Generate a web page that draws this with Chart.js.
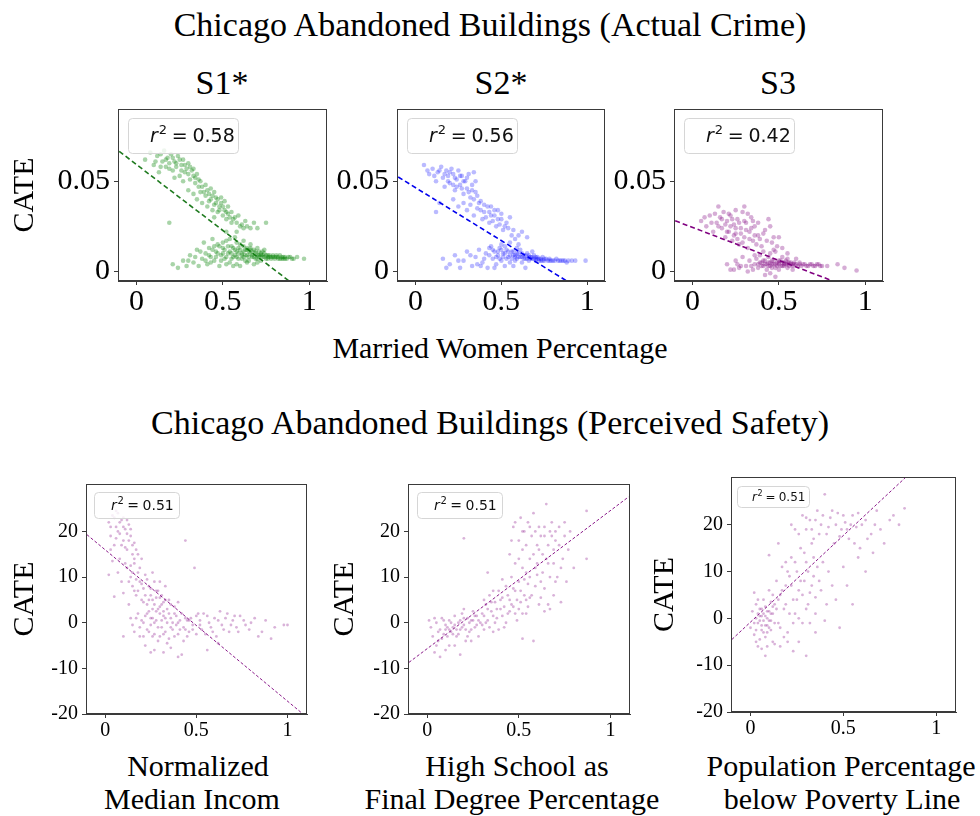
<!doctype html>
<html>
<head>
<meta charset="utf-8">
<title>Chicago Abandoned Buildings CATE</title>
<script src="https://cdn.jsdelivr.net/npm/chart.js@4.4.1/dist/chart.umd.min.js"></script>
<style>
  html, body { margin: 0; padding: 0; background: #fff; }
  #page { position: relative; width: 980px; height: 816px; overflow: hidden; font-family: "Liberation Serif", serif; color: #000; }
  canvas { position: absolute; }
  .txt { position: absolute; white-space: nowrap; transform: translateX(-50%); line-height: 1; }
</style>
</head>
<body>
<div id="page">
  <div class="txt" style="left:490px; top:8px; font-size:34px;">Chicago Abandoned Buildings (Actual Crime)</div>
  <div class="txt" style="left:222px; top:66px; font-size:34px;">S1*</div>
  <div class="txt" style="left:501px; top:66px; font-size:34px;">S2*</div>
  <div class="txt" style="left:778px; top:66px; font-size:34px;">S3</div>
  <div class="txt" style="left:500px; top:333px; font-size:30px;">Married Women Percentage</div>
  <div class="txt" style="left:490px; top:406px; font-size:34px;">Chicago Abandoned Buildings (Perceived Safety)</div>
  <div class="txt" style="left:198px; top:751px; font-size:30px;">Normalized</div>
  <div class="txt" style="left:192px; top:784px; font-size:30px;">Median Incom</div>
  <div class="txt" style="left:517px; top:751px; font-size:30px;">High School as</div>
  <div class="txt" style="left:512px; top:784px; font-size:30px;">Final Degree Percentage</div>
  <div class="txt" style="left:841px; top:751px; font-size:30px;">Population Percentage</div>
  <div class="txt" style="left:842px; top:784px; font-size:30px;">below Poverty Line</div>

  <canvas id="s1" width="335" height="240" style="left:0px; top:90px;"></canvas>
  <canvas id="s2" width="283" height="240" style="left:330px; top:90px;"></canvas>
  <canvas id="s3" width="283" height="240" style="left:608px; top:90px;"></canvas>
  <canvas id="b1" width="316" height="280" style="left:0px; top:470px;"></canvas>
  <canvas id="b2" width="320" height="280" style="left:320px; top:470px;"></canvas>
  <canvas id="b3" width="330" height="290" style="left:640px; top:460px;"></canvas>
</div>
<script>
// ---- data ----
var topXTicks = [0, 0.5, 1];
var topYTicks = [0, 0.05];
var botXTicks = [0, 0.5, 1];
var botYTicks = [-20, -10, 0, 10, 20];
var fitX = [-0.1, 1.1];

var r2Values = ['0.58', '0.56', '0.42', '0.51', '0.51', '0.51'];

// S1* (married women % vs CATE)
var s1Points = [
  [0.05,0.062],[0.08,0.066],[0.10,0.059],[0.12,0.064],[0.13,0.055],[0.15,0.061],[0.16,0.067],[0.17,0.058],
  [0.18,0.063],[0.19,0.060],[0.20,0.065],[0.21,0.056],[0.22,0.061],[0.23,0.058],[0.24,0.064],[0.25,0.053],
  [0.26,0.059],[0.27,0.062],[0.28,0.055],[0.29,0.057],[0.30,0.060],[0.31,0.051],[0.32,0.056],[0.33,0.053],
  [0.34,0.049],[0.35,0.054],[0.36,0.047],[0.37,0.050],[0.14,0.058],[0.22,0.052],[0.27,0.050],
  [0.11,0.061],[0.14,0.065],[0.17,0.062],[0.19,0.057],[0.21,0.063],[0.23,0.060],[0.25,0.062],[0.26,0.056],
  [0.28,0.059],[0.30,0.054],[0.31,0.058],[0.33,0.057],[0.34,0.052],[0.36,0.051],[0.38,0.047],[0.39,0.044],
  [0.30,0.045],[0.33,0.043],[0.35,0.040],[0.37,0.044],[0.38,0.038],[0.40,0.042],[0.41,0.036],[0.42,0.039],
  [0.43,0.046],[0.44,0.034],[0.45,0.037],[0.46,0.041],[0.47,0.033],[0.48,0.036],[0.49,0.038],[0.50,0.031],
  [0.51,0.034],[0.52,0.029],[0.53,0.032],[0.55,0.027],[0.57,0.030],[0.60,0.025],[0.63,0.028],[0.66,0.024],
  [0.40,0.048],[0.41,0.045],[0.42,0.043],[0.43,0.040],[0.44,0.042],[0.45,0.044],[0.46,0.038],[0.47,0.040],
  [0.48,0.034],[0.49,0.041],[0.50,0.036],[0.51,0.039],[0.52,0.033],[0.53,0.036],[0.54,0.030],[0.55,0.033],
  [0.56,0.029],[0.58,0.027],[0.59,0.031],[0.61,0.026],[0.62,0.024],[0.64,0.025],[0.68,0.027],[0.70,0.024],
  [0.19,0.027],[0.52,0.022],[0.58,0.022],[0.75,0.027],[0.45,0.030],
  [0.21,0.004],[0.24,0.002],[0.27,0.006],[0.29,0.003],[0.31,0.009],[0.33,0.005],[0.35,0.012],[0.36,0.003],
  [0.38,0.007],[0.39,0.016],[0.40,0.010],[0.41,0.004],[0.42,0.013],[0.43,0.008],[0.44,0.018],[0.45,0.006],
  [0.46,0.011],[0.47,0.015],[0.48,0.003],[0.49,0.009],[0.50,0.013],[0.51,0.007],[0.52,0.017],[0.53,0.010],
  [0.54,0.005],[0.55,0.014],[0.56,0.008],[0.57,0.012],[0.58,0.004],[0.59,0.010],[0.60,0.015],[0.61,0.007],
  [0.62,0.011],[0.63,0.009],[0.64,0.013],[0.65,0.006],[0.66,0.010],[0.67,0.008],[0.68,0.012],[0.69,0.007],
  [0.70,0.009],[0.71,0.011],[0.72,0.006],[0.73,0.008],[0.74,0.010],[0.75,0.007],[0.76,0.009],[0.77,0.008],
  [0.78,0.007],[0.79,0.009],[0.80,0.008],[0.82,0.007],[0.83,0.009],[0.85,0.008],[0.86,0.007],[0.88,0.008],
  [0.90,0.007],[0.93,0.008],[0.97,0.007],[0.57,0.019],[0.62,0.017],[0.66,0.015],[0.60,0.003],[0.68,0.004],
  [0.64,0.012],[0.70,0.013],[0.55,0.010],[0.59,0.013],[0.74,0.012],[0.67,0.011],[0.61,0.009],[0.65,0.011],
  [0.69,0.010],[0.72,0.009],[0.63,0.006],[0.58,0.008],[0.71,0.008],[0.76,0.008],[0.81,0.008],[0.84,0.007],
  [0.30,0.006],[0.34,0.008],[0.37,0.011],[0.40,0.006],[0.42,0.009],[0.44,0.012],[0.46,0.008],[0.47,0.010],
  [0.48,0.014],[0.49,0.006],[0.50,0.010],[0.51,0.012],[0.52,0.008],[0.53,0.014],[0.54,0.011],[0.55,0.007],
  [0.56,0.013],[0.57,0.009],[0.58,0.011],[0.59,0.007],[0.60,0.012],[0.61,0.010],[0.62,0.008],[0.63,0.012],
  [0.64,0.009],[0.65,0.008],[0.66,0.012],[0.67,0.009],[0.68,0.008],[0.69,0.011],[0.70,0.007],[0.71,0.009],
  [0.72,0.010],[0.73,0.009],[0.74,0.008],[0.75,0.009],[0.76,0.007],[0.77,0.009],[0.78,0.008],[0.79,0.008],
  [0.80,0.007],[0.81,0.009],[0.82,0.008],[0.83,0.007],[0.84,0.008],[0.85,0.007],[0.86,0.008],[0.87,0.007],
  [0.89,0.008],[0.91,0.007],[0.58,0.016],[0.54,0.018],[0.50,0.016],[0.45,0.014],[0.62,0.014],[0.66,0.013],
  [0.43,0.005],[0.52,0.004],[0.56,0.003],[0.64,0.005],[0.70,0.005],[0.73,0.011]
];
var s1Fit = [0.0666, -0.0211];

// S2*
var s2Points = [
  [0.05,0.059],[0.08,0.054],[0.10,0.057],[0.12,0.050],[0.13,0.055],[0.15,0.058],[0.16,0.052],[0.17,0.047],
  [0.18,0.056],[0.19,0.053],[0.20,0.049],[0.21,0.057],[0.22,0.054],[0.23,0.045],[0.24,0.051],[0.25,0.056],
  [0.26,0.048],[0.27,0.053],[0.28,0.043],[0.29,0.050],[0.30,0.046],[0.31,0.054],[0.32,0.041],[0.33,0.048],
  [0.34,0.055],[0.35,0.044],
  [0.07,0.056],[0.11,0.053],[0.14,0.056],[0.17,0.054],[0.19,0.050],[0.20,0.055],[0.22,0.048],[0.23,0.052],
  [0.24,0.047],[0.26,0.053],[0.27,0.046],[0.28,0.050],[0.30,0.052],[0.31,0.044],[0.33,0.045],[0.34,0.040],
  [0.35,0.050],[0.36,0.042],[0.37,0.038],[0.38,0.034],[0.40,0.037],[0.41,0.030],[0.43,0.033],[0.44,0.036],
  [0.45,0.028],[0.46,0.031],[0.48,0.034],[0.49,0.026],[0.50,0.029],[0.52,0.025],[0.54,0.024],[0.57,0.023],
  [0.60,0.020],
  [0.14,0.038],[0.12,0.033],[0.22,0.040],[0.25,0.036],[0.28,0.038],[0.30,0.034],[0.32,0.037],[0.34,0.031],
  [0.36,0.035],[0.38,0.039],[0.39,0.029],[0.40,0.033],[0.42,0.036],[0.43,0.027],[0.44,0.031],[0.46,0.034],
  [0.47,0.025],[0.48,0.029],[0.50,0.032],[0.51,0.023],[0.53,0.027],[0.55,0.030],[0.56,0.020],[0.58,0.018],
  [0.62,0.022],[0.65,0.019],
  [0.16,0.007],[0.20,0.004],[0.23,0.009],[0.26,0.002],[0.28,0.006],[0.30,0.011],[0.33,0.003],[0.35,0.008],
  [0.37,0.012],[0.39,0.005],[0.41,0.010],[0.42,0.002],[0.44,0.014],[0.45,0.007],[0.46,0.011],[0.47,0.004],
  [0.48,0.009],[0.49,0.013],[0.50,0.006],[0.51,0.010],[0.52,0.003],[0.53,0.012],[0.54,0.008],[0.55,0.005],
  [0.56,0.011],[0.57,0.009],[0.58,0.006],[0.59,0.010],[0.60,0.008],[0.61,0.012],[0.62,0.005],[0.63,0.009],
  [0.64,0.007],[0.65,0.010],[0.66,0.006],[0.67,0.008],[0.68,0.007],[0.69,0.009],[0.70,0.006],[0.71,0.008],
  [0.72,0.007],[0.73,0.006],[0.74,0.008],[0.75,0.007],[0.77,0.006],[0.78,0.007],[0.80,0.006],[0.82,0.007],
  [0.84,0.006],[0.86,0.006],[0.88,0.005],[0.91,0.006],[0.99,0.006],[0.60,0.015],[0.57,0.003],[0.64,0.002],
  [0.52,0.014],[0.68,0.011],[0.55,0.016],[0.62,0.008],[0.66,0.009],[0.70,0.008],[0.58,0.009],[0.74,0.006],
  [0.79,0.006],[0.83,0.006],[0.87,0.006],
  [0.40,0.007],[0.43,0.009],[0.45,0.012],[0.47,0.008],[0.48,0.011],[0.49,0.007],[0.50,0.012],[0.51,0.008],
  [0.52,0.010],[0.53,0.007],[0.54,0.011],[0.55,0.009],[0.56,0.007],[0.57,0.011],[0.58,0.008],[0.59,0.007],
  [0.60,0.010],[0.61,0.008],[0.62,0.010],[0.63,0.007],[0.64,0.009],[0.65,0.007],[0.66,0.008],[0.67,0.007],
  [0.68,0.008],[0.69,0.007],[0.70,0.007],[0.71,0.007],[0.72,0.006],[0.73,0.007],[0.75,0.006],[0.76,0.007],
  [0.78,0.006],[0.81,0.006],[0.85,0.006],[0.89,0.006],[0.93,0.006],[0.36,0.004],[0.32,0.009],[0.25,0.006],
  [0.18,0.002],[0.38,0.003],[0.43,0.013],[0.50,0.015],[0.46,0.002],[0.59,0.013]
];
var s2Fit = [0.0524, -0.0182];

// S3
var s3Points = [
  [0.05,0.028],[0.08,0.025],[0.10,0.031],[0.12,0.022],[0.14,0.027],[0.15,0.036],[0.16,0.030],[0.17,0.024],
  [0.18,0.033],[0.19,0.019],[0.20,0.028],[0.21,0.022],[0.22,0.031],[0.23,0.017],[0.24,0.026],[0.25,0.021],
  [0.26,0.029],[0.27,0.015],[0.28,0.024],[0.29,0.033],[0.30,0.019],[0.31,0.027],[0.32,0.013],[0.33,0.022],
  [0.34,0.030],[0.35,0.017],[0.36,0.025],[0.38,0.020],[0.40,0.014],[0.42,0.023],[0.44,0.029],[0.46,0.016],
  [0.48,0.011],[0.50,0.019],[0.25,0.034],[0.30,0.036],
  [0.07,0.030],[0.11,0.027],[0.13,0.032],[0.15,0.025],[0.17,0.029],[0.19,0.026],[0.20,0.022],[0.21,0.032],
  [0.22,0.025],[0.23,0.029],[0.24,0.020],[0.25,0.024],[0.26,0.018],[0.27,0.027],[0.28,0.021],[0.29,0.016],
  [0.30,0.028],[0.31,0.023],[0.32,0.032],[0.33,0.018],[0.34,0.024],[0.35,0.028],[0.36,0.020],[0.37,0.015],
  [0.38,0.027],[0.39,0.018],[0.41,0.021],[0.43,0.017],[0.45,0.025],[0.47,0.019],[0.49,0.014],[0.52,0.013],
  [0.55,0.010],
  [0.20,0.004],[0.22,0.001],[0.25,0.006],[0.27,0.002],[0.29,0.008],[0.31,0.003],[0.33,0.006],[0.35,0.001],
  [0.36,0.004],[0.37,0.007],[0.38,0.002],[0.39,0.005],[0.40,0.003],[0.41,0.006],[0.42,0.004],[0.43,0.001],
  [0.44,0.005],[0.45,0.003],[0.46,0.006],[0.47,0.004],[0.48,0.002],[0.49,0.005],[0.50,0.004],[0.51,0.006],
  [0.52,0.003],[0.53,0.005],[0.54,0.004],[0.55,0.002],[0.56,0.005],[0.57,0.004],[0.58,0.003],[0.60,0.004],
  [0.62,0.005],[0.63,0.003],[0.65,0.004],[0.67,0.003],[0.69,0.004],[0.71,0.003],[0.73,0.004],[0.75,0.003],
  [0.78,0.003],[0.84,0.004],[0.95,0.0005],[0.88,0.002],[0.42,-0.002],[0.48,-0.003],[0.39,0.009],[0.45,0.010],
  [0.52,0.008],[0.47,0.012],[0.41,0.011],[0.50,0.005],[0.53,0.004],[0.46,0.004],[0.55,0.005],[0.59,0.004],
  [0.38,0.004],[0.40,0.005],[0.41,0.003],[0.42,0.006],[0.43,0.004],[0.44,0.003],[0.45,0.005],[0.46,0.002],
  [0.47,0.006],[0.48,0.004],[0.49,0.003],[0.50,0.006],[0.51,0.003],[0.52,0.005],[0.53,0.003],[0.54,0.006],
  [0.55,0.004],[0.56,0.003],[0.57,0.005],[0.58,0.004],[0.59,0.005],[0.61,0.003],[0.62,0.004],[0.64,0.004],
  [0.66,0.003],[0.68,0.004],[0.70,0.003],[0.72,0.004],[0.74,0.003],[0.34,0.003],[0.32,0.000],[0.28,0.003],
  [0.24,0.001],[0.26,0.004],[0.50,0.001],[0.45,-0.001],[0.55,0.007],[0.60,0.007],[0.36,0.009],[0.44,0.008],
  [0.58,0.001]
];
var s3Fit = [0.0281, -0.0158];

// Normalized median income
var b1Points = [
  [0.02,22],[0.03,19],[0.04,23.5],[0.05,17],[0.06,21],[0.07,24],[0.08,19.5],[0.09,22.5],[0.10,18],[0.11,20.5],
  [0.12,16],[0.13,21.5],[0.14,19],[0.15,15],[0.16,17.5],[0.08,14],[0.11,13],[0.04,13.5],[0.02,10.5],[0.05,5.7],
  [0.03,21],[0.05,23],[0.06,18.5],[0.07,20],[0.08,22],[0.09,17],[0.10,21],[0.11,16.5],[0.12,19.5],[0.13,18],
  [0.14,20.5],[0.15,17],[0.16,14],[0.17,16],[0.10,23],[0.06,24.5],[0.12,22.5],[0.03,16],[0.07,11],[0.09,9],
  [0.12,12],[0.14,10],[0.15,8],[0.16,13],[0.17,6],[0.18,11],[0.19,9],[0.20,14],[0.20,5],[0.21,7.5],
  [0.22,10.5],[0.23,4],[0.24,8],[0.25,6],[0.26,3],[0.27,9],[0.28,5.5],[0.29,7],[0.30,3.5],[0.31,6],
  [0.32,4.5],[0.33,8],[0.35,5],[0.18,15],[0.10,6.5],[0.13,4],
  [0.13,9],[0.14,12.5],[0.15,11],[0.16,7],[0.17,9.5],[0.18,7],[0.19,12],[0.20,8.5],[0.21,4.5],[0.22,6],
  [0.23,9.5],[0.24,5],[0.25,7.5],[0.26,5],[0.27,4],[0.28,7],[0.29,3],[0.30,5.5],[0.31,4],[0.32,2.5],
  [0.33,5],[0.34,3],[0.36,4],[0.38,3.5],[0.40,4.5],[0.26,11],[0.30,9],
  [0.14,1],[0.16,-2],[0.18,2],[0.19,-1],[0.20,0.5],[0.21,-3],[0.22,1.5],[0.23,-1.5],[0.24,2.5],[0.25,-0.5],
  [0.26,1],[0.27,-2.5],[0.28,0.5],[0.29,-4],[0.30,2],[0.31,-1],[0.32,1.5],[0.33,-2],[0.34,0],[0.35,-3.5],
  [0.36,1],[0.37,-1.5],[0.38,2],[0.39,-0.5],[0.40,-2.5],[0.41,0.5],[0.42,-7],[0.43,-1],[0.44,1],[0.45,-3],
  [0.22,-5],[0.27,-6],[0.32,-6.5],[0.10,-3],
  [0.15,-0.5],[0.17,1],[0.19,-3],[0.21,0],[0.23,2],[0.24,-2],[0.25,1],[0.26,-3],[0.27,0],[0.28,2.5],
  [0.29,-1],[0.30,-3],[0.31,0.5],[0.32,-2.5],[0.33,1],[0.34,-4.5],[0.35,2],[0.36,-1],[0.37,0],[0.38,-3],
  [0.39,1.5],[0.40,0],[0.41,-1.5],[0.42,2],[0.43,-4],[0.44,-1.5],[0.45,0.5],[0.46,-2],[0.47,1],[0.48,-0.5],
  [0.50,-2.5],[0.52,0.5],[0.53,-1.5],[0.25,-6.5],[0.36,-5.5],[0.40,-7.5],
  [0.46,0.5],[0.48,-1.5],[0.50,1.5],[0.52,-0.5],[0.54,2],[0.55,-2.5],[0.57,0],[0.58,-1],[0.60,1],[0.61,-3],
  [0.63,2.5],[0.64,-0.5],[0.66,1],[0.68,-2],[0.70,0.5],[0.72,-1],[0.74,1.5],[0.77,-0.5],[0.80,0],[0.84,-3],
  [0.88,0.5],[0.91,-3.5],[0.98,-0.5],[1.0,-0.5],[0.62,-4.5],[0.56,-6],[0.44,18],[0.49,12],
  [0.51,2],[0.56,1.5],[0.59,-2],[0.62,0.5],[0.65,-1.5],[0.67,2],[0.69,-0.5],[0.71,1.5],[0.73,-2],[0.76,0.5],
  [0.79,-1.5],[0.82,1],[0.86,-2],[0.93,-1]
];
var b1Fit = [19.3, -20.5];

// High school as final degree percentage
var b2Points = [
  [0.01,0.5],[0.03,-3],[0.04,-6.5],[0.05,0],[0.06,-4],[0.07,-1.5],[0.08,1],[0.09,-2.5],[0.10,-0.5],[0.11,-1],
  [0.12,0.5],[0.13,-2],[0.14,-1],[0.15,1.5],[0.16,-3],[0.17,0],[0.18,-1.5],[0.19,2],[0.20,-0.5],[0.21,-4],
  [0.22,1],[0.23,-2],[0.24,0.5],[0.25,2.5],[0.26,-1],[0.27,1.5],[0.28,-3],[0.12,-5],[0.18,-7],[0.07,-7.5],
  [0.29,0],[0.20,3],
  [0.02,-1],[0.04,1],[0.06,-2],[0.08,-3.5],[0.09,0.5],[0.10,-1.5],[0.11,-3],[0.12,-1.5],[0.13,0],[0.14,-2.5],
  [0.15,-0.5],[0.16,-1.5],[0.17,-2.5],[0.18,0.5],[0.19,-1],[0.20,1],[0.21,-1.5],[0.22,-3],[0.23,0],[0.24,-1.5],
  [0.25,0.5],[0.26,1.5],[0.27,-0.5],[0.28,0.5],[0.10,-6],[0.15,-5],[0.05,-5],[0.24,-4],
  [0.30,2],[0.31,-1.5],[0.32,4],[0.33,0.5],[0.34,6],[0.35,2.5],[0.36,-2],[0.37,4.5],[0.38,1],[0.39,7],
  [0.40,3],[0.41,5.5],[0.42,-1],[0.43,8],[0.44,2],[0.45,5],[0.46,10],[0.47,3.5],[0.48,7],[0.49,0.5],
  [0.50,9],[0.51,4.5],[0.52,12],[0.53,6],[0.54,2],[0.55,8.5],[0.20,18.5],[0.33,11],[0.41,9.5],
  [0.30,-0.5],[0.31,1.5],[0.32,0],[0.33,3],[0.34,-1],[0.35,4.5],[0.36,1.5],[0.37,0],[0.38,3],[0.39,-1.5],
  [0.40,5],[0.41,1.5],[0.42,3.5],[0.43,0],[0.44,6],[0.45,2.5],[0.46,4],[0.47,7.5],[0.48,2],[0.49,5],
  [0.50,3],[0.51,7],[0.52,2],[0.53,9.5],[0.54,5],[0.55,3.5],[0.56,10],[0.36,7],[0.31,5],
  [0.45,15],[0.47,21],[0.48,13],[0.50,18],[0.51,23],[0.52,16],[0.53,20],[0.54,11],[0.55,22],[0.56,14],
  [0.57,19],[0.58,24],[0.59,12],[0.60,17],[0.61,21],[0.62,9],[0.63,15],[0.64,19],[0.65,26],[0.66,13],
  [0.67,20],[0.68,22],[0.69,16],[0.70,18],[0.71,10],[0.72,21],[0.74,14],[0.75,19],[0.77,16],[0.80,12],
  [0.87,24.5],[0.87,14],[0.57,6],[0.61,4],[0.64,7.5],[0.67,3],[0.70,9],[0.73,4.5],[0.58,-4],[0.60,10.5],
  [0.46,18],[0.48,22],[0.50,14],[0.52,20],[0.54,17],[0.56,21],[0.58,15],[0.59,20],[0.60,13],[0.61,16],
  [0.62,19],[0.63,11],[0.64,21],[0.65,14],[0.66,17],[0.67,10],[0.68,19],[0.69,13],[0.70,20],[0.72,17],
  [0.73,12],[0.75,22],[0.78,20],[0.76,9],[0.62,5.5],[0.66,4],[0.69,6],[0.59,8],[0.64,2.5],[0.56,5.5],
  [0.52,-3.5]
];
var b2Fit = [-8.7, 27.6];

// Population percentage below poverty line
var b3Points = [
  [0.00,-2],[0.01,1.5],[0.02,-3.5],[0.03,0],[0.03,3],[0.04,-1],[0.05,2],[0.05,-4.5],[0.06,0.5],[0.06,-2.5],
  [0.07,1],[0.07,4],[0.08,-1.5],[0.08,2.5],[0.09,-3],[0.09,0],[0.10,1.5],[0.10,-2],[0.11,3.5],[0.11,-0.5],
  [0.12,1],[0.12,-5],[0.04,-6],[0.08,-8],[0.13,-5.5],[0.02,5.5],[0.10,6],
  [0.02,-1],[0.03,-2.5],[0.04,1],[0.05,-0.5],[0.05,0.5],[0.06,-1.5],[0.06,2],[0.07,-3],[0.07,-0.5],[0.08,0.5],
  [0.08,-4],[0.09,1.5],[0.09,-1.5],[0.10,-0.5],[0.11,1],[0.11,-2.5],[0.12,2.5],[0.13,-1],[0.04,4],[0.06,-6.5],
  [0.09,-6],[0.03,-5],[0.12,5],
  [0.13,3],[0.14,8],[0.15,-1],[0.16,5],[0.17,11],[0.18,2],[0.19,7],[0.20,-3],[0.21,9],[0.22,13],
  [0.23,4],[0.24,1],[0.25,10],[0.26,6],[0.27,15],[0.28,-1],[0.29,8],[0.30,12],[0.31,3],[0.32,5.5],
  [0.33,16],[0.34,9],[0.35,1],[0.36,11],[0.38,6],[0.40,-0.5],[0.42,10],[0.46,4],[0.48,-2],[0.52,7],
  [0.55,3],[0.58,13],[0.62,10],[0.66,14],[0.23,-7],[0.30,-8],[0.15,16],[0.10,13.5],[0.20,-5],
  [0.14,2],[0.15,4],[0.16,-2],[0.17,6],[0.18,-4],[0.19,3],[0.20,10],[0.21,1],[0.22,7],[0.23,-1],
  [0.24,12],[0.25,4],[0.26,0],[0.27,8],[0.28,5],[0.29,14],[0.30,2],[0.31,10],[0.32,-1],[0.33,7],
  [0.34,13],[0.35,4.5],[0.37,8],[0.39,12],[0.41,3],[0.44,7],[0.50,11],[0.16,-6],[0.19,12],[0.26,-5],
  [0.35,-3],
  [0.22,20],[0.26,18],[0.28,22],[0.30,19],[0.32,21],[0.34,17],[0.36,23],[0.38,20],[0.40,26.5],[0.41,18],
  [0.43,21.5],[0.45,16],[0.47,22.5],[0.49,19],[0.51,20.5],[0.53,17],[0.55,22],[0.57,19.5],[0.59,15],[0.62,21],
  [0.65,18],[0.68,23],[0.72,16],[0.77,22],[0.80,20],[0.83,23.5],[0.70,19],
  [0.24,19],[0.30,21.5],[0.33,19],[0.35,21],[0.37,18],[0.39,22],[0.42,19.5],[0.44,23],[0.46,20],[0.48,17.5],
  [0.50,22],[0.52,19],[0.54,20],[0.56,16],[0.60,20],[0.63,17],[0.58,22.5],[0.67,20],[0.75,21]
];
var b3Fit = [-4.5, 39.9];

// ---- plugins ----
var framePlugin = {
  id: 'frame',
  afterDatasetsDraw: function(chart) {
    var a = chart.chartArea, ctx = chart.ctx;
    ctx.save();
    ctx.strokeStyle = '#3a3a3a';
    ctx.lineWidth = 1;
    ctx.strokeRect(Math.round(a.left) + 0.5, Math.round(a.top) + 0.5,
                   Math.round(a.right - a.left) - 1, Math.round(a.bottom - a.top) - 1);
    ctx.restore();
  }
};

var r2Plugin = {
  id: 'r2box',
  afterDatasetsDraw: function(chart) {
    var o = chart.options.plugins.r2box;
    if (!o || !o.text) return;
    var a = chart.chartArea, ctx = chart.ctx;
    var bx = a.left + o.x, by = a.top + o.y;
    ctx.save();
    ctx.beginPath();
    ctx.roundRect(bx + 0.5, by + 0.5, o.w, o.h, 4);
    ctx.fillStyle = 'rgba(255,255,255,0.8)';
    ctx.fill();
    ctx.strokeStyle = '#d6d6d6';
    ctx.lineWidth = 1;
    ctx.stroke();
    var fs = o.fs;
    var base = by + o.h / 2 + fs * 0.36;
    var x = bx + o.tx;
    ctx.fillStyle = '#111';
    ctx.textBaseline = 'alphabetic';
    ctx.font = 'italic ' + fs + 'px "DejaVu Sans"';
    ctx.fillText('r', x, base);
    x += ctx.measureText('r').width + fs * 0.05;
    ctx.font = Math.round(fs * 0.7) + 'px "DejaVu Sans"';
    ctx.fillText('2', x, base - fs * 0.42);
    x += ctx.measureText('2').width + fs * 0.25;
    ctx.font = fs + 'px "DejaVu Sans"';
    ctx.fillText('=', x, base);
    x += ctx.measureText('=').width + fs * 0.25;
    ctx.fillText(o.text, x, base);
    ctx.restore();
  }
};

function toXY(pts) {
  return pts.map(function(p) { return { x: p[0], y: p[1] }; });
}

function makePanel(id, pts, fitY, o) {
  var tickFont = { family: 'Liberation Serif', size: o.tickSize, lineHeight: 1 };
  return new Chart(document.getElementById(id), {
    type: 'scatter',
    data: {
      datasets: [
        {
          data: toXY(pts),
          backgroundColor: o.pointColor,
          borderWidth: 0,
          pointRadius: o.radius,
          pointHoverRadius: o.radius
        },
        {
          type: 'line',
          data: fitX.map(function(x, i) { return { x: x, y: fitY[i] }; }),
          borderColor: o.lineColor,
          borderWidth: o.lineWidth,
          borderDash: o.dash,
          pointRadius: 0,
          fill: false,
          tension: 0
        }
      ]
    },
    options: {
      responsive: false,
      animation: false,
      events: [],
      layout: { padding: { top: o.padTop, right: o.padRight, left: 0, bottom: 0 } },
      plugins: {
        legend: { display: false },
        tooltip: { enabled: false },
        r2box: o.box
      },
      scales: {
        x: {
          type: 'linear',
          min: o.xMin, max: o.xMax,
          afterBuildTicks: function(s) { s.ticks = o.xTicks.map(function(v) { return { value: v }; }); },
          afterFit: function(s) { s.height = o.xHeight; },
          grid: { drawOnChartArea: false, drawTicks: true, tickLength: 4, color: '#3a3a3a' },
          border: { color: '#3a3a3a' },
          ticks: { autoSkip: false, maxRotation: 0, font: tickFont, color: '#000', padding: o.xPad,
                   callback: function(v) { return String(v); } }
        },
        y: {
          type: 'linear',
          min: o.yMin, max: o.yMax,
          afterBuildTicks: function(s) { s.ticks = o.yTicks.map(function(v) { return { value: v }; }); },
          afterFit: function(s) { s.width = o.yWidth; },
          grid: { drawOnChartArea: false, drawTicks: true, tickLength: 4, color: '#3a3a3a' },
          border: { color: '#3a3a3a' },
          title: { display: o.yTitle, text: 'CATE', color: '#000',
                   font: { family: 'Liberation Serif', size: 30, lineHeight: 1.2 },
                   padding: { top: 7, bottom: 0 } },
          ticks: { autoSkip: false, font: tickFont, color: '#000', padding: 4,
                   callback: function(v) { return String(v); } }
        }
      }
    },
    plugins: [framePlugin, r2Plugin]
  });
}

var topBase = {
  xTicks: topXTicks, yTicks: topYTicks, xMin: -0.107, xMax: 1.103, yMin: -0.0053, yMax: 0.0901,
  tickSize: 30, radius: 2.3, lineWidth: 1.6, dash: [5, 3], padTop: 11, padRight: 8, xHeight: 49, xPad: 2
};
var botBase = {
  xTicks: botXTicks, yTicks: botYTicks, xMin: -0.105, xMax: 1.107, yMin: -20, yMax: 30.4,
  tickSize: 20, radius: 1.4, lineWidth: 1, dash: [3, 2], padTop: 14, xHeight: 36, xPad: 3,
  pointColor: 'rgba(128,0,128,0.3)', lineColor: '#8a1a8a'
};

function ext(base, more) {
  var r = {};
  for (var k in base) r[k] = base[k];
  for (var k2 in more) r[k2] = more[k2];
  return r;
}

var bigBox = function(t) { return { text: t, x: 10, y: 9, w: 110, h: 35, fs: 19, tx: 22 }; };

makePanel('s1', s1Points, s1Fit, ext(topBase, {
  yWidth: 118, yTitle: true, pointColor: 'rgba(0,128,0,0.34)', lineColor: '#1e7a1e', box: bigBox(r2Values[0])
}));
makePanel('s2', s2Points, s2Fit, ext(topBase, {
  yWidth: 67, yTitle: false, pointColor: 'rgba(0,0,255,0.27)', lineColor: '#0000ee', box: bigBox(r2Values[1])
}));
makePanel('s3', s3Points, s3Fit, ext(topBase, {
  yWidth: 66, yTitle: false, pointColor: 'rgba(128,0,128,0.32)', lineColor: '#800080', box: bigBox(r2Values[2])
}));
makePanel('b1', b1Points, b1Fit, ext(botBase, {
  yWidth: 86, padRight: 9, yTitle: true, box: { text: r2Values[3], x: 8, y: 8, w: 85, h: 26, fs: 14, tx: 17 }
}));
makePanel('b2', b2Points, b2Fit, ext(botBase, {
  yWidth: 88, padRight: 10, yTitle: true, box: { text: r2Values[4], x: 9, y: 8, w: 85, h: 26, fs: 14, tx: 17 }
}));
makePanel('b3', b3Points, b3Fit, ext(botBase, {
  yWidth: 91, padRight: 14, padTop: 17, xHeight: 38, yMax: 30.2, yTitle: true,
  box: { text: r2Values[5], x: 6, y: 9, w: 72, h: 21, fs: 12, tx: 15 }
}));
</script>
</body>
</html>
